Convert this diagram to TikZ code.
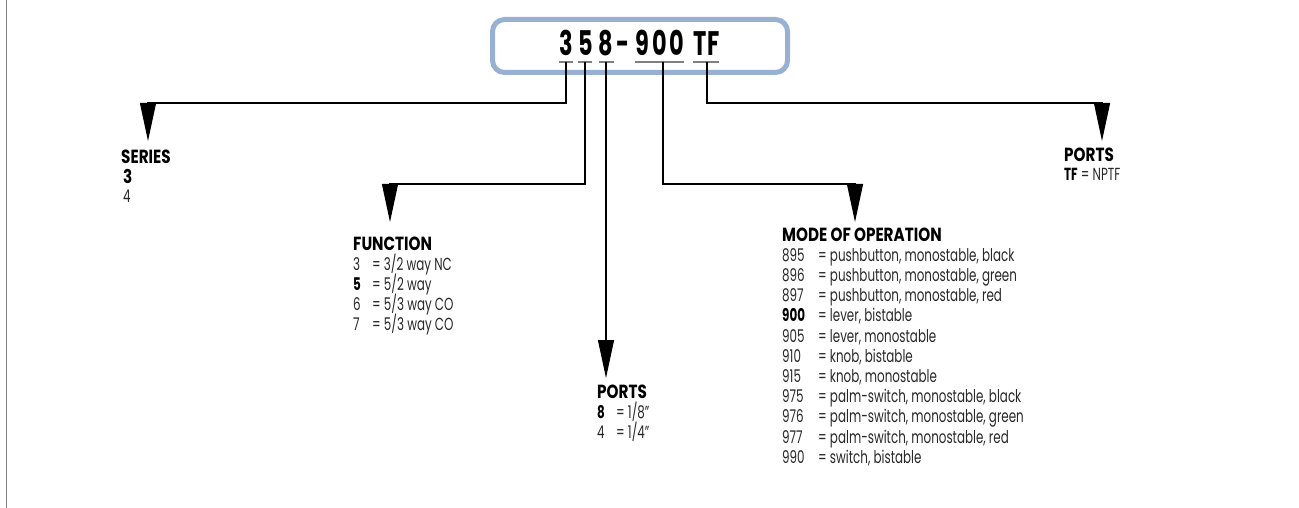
\documentclass[tikz,border=0pt]{standalone}
\usepackage{fontspec}
\setmainfont{Poppins}[FakeStretch=0.68]
\newfontfamily\headf{Poppins}[FakeStretch=0.8]
\newfontfamily\codef{Poppins}[FakeStretch=0.66]
\usetikzlibrary{arrows.meta}
\definecolor{boxblue}{RGB}{152,176,210}
\definecolor{bodytxt}{RGB}{40,40,40}
\tikzset{
  txt/.style={anchor=base west,inner sep=0pt,font=\fontsize{17.5}{20}\selectfont,text=bodytxt},
  head/.style={anchor=base west,inner sep=0pt,font=\headf\fontsize{19}{20}\selectfont\bfseries,text=black},
  code/.style={anchor=base,inner sep=0pt,font=\codef\fontsize{34}{36}\selectfont\bfseries,text=black},
  uline/.style={draw=gray,line width=1.6pt},
  conn/.style={draw=black,line width=1.1pt,-{Triangle[length=38pt,width=16pt]}},
  codebox/.style={draw=boxblue,line width=5pt,rounded corners=12pt}
}
\newcommand{\eqcol}[2]{\makebox[#1][l]{#2}}
\newcommand{\bnum}[1]{\textbf{\textcolor{black}{#1}}}
\begin{document}
\begin{tikzpicture}[x=1pt,y=-1pt]
\useasboundingbox (0,0) rectangle (1299,508);
\draw[gray,line width=1.5pt] (6.5,0) -- (6.5,508);
% code box
\draw[codebox] (492.5,19.5) rectangle (787.5,72.5);
\node[code] (c1) at (566,56) {3};
\node[code] (c2) at (586,56) {5};
\node[code] (c3) at (606,56) {8};
\node[code] (c4) at (623.5,56) {-};
\node[code] (c5) at (642.5,56) {9};
\node[code] (c6) at (660,56) {0};
\node[code] (c7) at (677,56) {0};
\node[code] (c8) at (700,56) {T};
\node[code] (c9) at (714,56) {F};
% underlines
\draw[uline] (559,62) -- (573,62);
\draw[uline] (578,62) -- (592,62);
\draw[uline] (599,62) -- (614,62);
\draw[uline] (635,62) -- (684,62);
\draw[uline] (693,62) -- (719,62);
\coordinate (u1) at (566,62);
\coordinate (u2) at (585,62);
\coordinate (u3) at (606,62);
\coordinate (u4) at (663,62);
\coordinate (u5) at (707,62);
% arrow tops and tips
\coordinate (t1) at (148,103);  \coordinate (s1) at (148,141);
\coordinate (t2) at (390,184);  \coordinate (s2) at (390,222);
\coordinate (s3) at (606,378);
\coordinate (t4) at (855,184);  \coordinate (s4) at (855,222);
\coordinate (t5) at (1102,103); \coordinate (s5) at (1102,141);
\draw[conn] (u1) |- (t1) -- (s1);
\draw[conn] (u2) |- (t2) -- (s2);
\draw[conn] (u3) -- (s3);
\draw[conn] (u4) |- (t4) -- (s4);
\draw[conn] (u5) |- (t5) -- (s5);
% SERIES
\node[head] (series) at (121,164) {SERIES};
\node[head] (ser3) at (123,184) {3};
\node[txt] (ser4) at (123,203) {4};
% FUNCTION
\node[head] (func) at (353,250) {FUNCTION};
\node[txt] (f1) at (353,270) {\eqcol{19pt}{3}= 3/2 way NC};
\node[txt] (f2) at (353,290) {\eqcol{19pt}{\bnum{5}}= 5/2 way};
\node[txt] (f3) at (353,310) {\eqcol{19pt}{6}= 5/3 way CO};
\node[txt] (f4) at (353,330) {\eqcol{19pt}{7}= 5/3 way CO};
% PORTS middle
\node[head] (ports1) at (597,398) {PORTS};
\node[txt] (p1) at (597,418) {\eqcol{19pt}{\bnum{8}}= 1/8\char"201D};
\node[txt] (p2) at (597,438) {\eqcol{19pt}{4}= 1/4\char"201D};
% MODE OF OPERATION
\node[head] (mode) at (782,241) {MODE OF OPERATION};
\foreach \n/\num/\desc [count=\i] in {
  m1/895/{pushbutton, monostable, black},
  m2/896/{pushbutton, monostable, green},
  m3/897/{pushbutton, monostable, red},
  m4/{\bnum{900}}/{lever, bistable},
  m5/905/{lever, monostable},
  m6/910/{knob, bistable},
  m7/915/{knob, monostable},
  m8/975/{palm-switch, monostable, black},
  m9/976/{palm-switch, monostable, green},
  m10/977/{palm-switch, monostable, red},
  m11/990/{switch, bistable}}
  \node[txt] (\n) at (782,241+20.2*\i) {\eqcol{36pt}{\num}= \desc};
% PORTS right
\node[head] (ports2) at (1064,162) {PORTS};
\node[txt] (p3) at (1064,181) {\bnum{TF} = NPTF};
\end{tikzpicture}
\end{document}
